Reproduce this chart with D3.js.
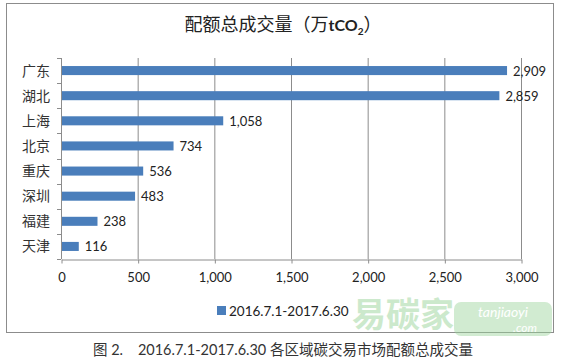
<!DOCTYPE html>
<html><head><meta charset="utf-8">
<script src="https://cdn.jsdelivr.net/npm/d3@7"></script>
<style>
body{margin:0;background:#fff;}
svg{display:block;}
text{font-family:Lato,"Noto Sans CJK SC",sans-serif;}
</style></head>
<body><svg id="c" width="562" height="360"></svg>
<script>
const categories = ["广东","湖北","上海","北京","重庆","深圳","福建","天津"];
const values = [2909,2859,1058,734,536,483,238,116];
const xTicks = [0,500,1000,1500,2000,2500,3000];
const seriesName = "2016.7.1-2017.6.30";

const svg = d3.select("#c");
const m = {l:61, r:521, t:58, b:259};
const x = d3.scaleLinear().domain([0,3000]).range([m.l,m.r]);
const y = d3.scaleBand().domain(categories).range([m.t,m.b]).paddingInner(0.64).paddingOuter(0.32);
const yb = d3.scaleBand().domain(categories).range([m.t,m.b]);

// frame
svg.append("rect").attr("x",6.5).attr("y",3.5).attr("width",547).attr("height",329)
  .attr("fill","#fff").attr("stroke","#8c8c8c").attr("stroke-width",1);

// title
const t = svg.append("text").attr("x",283).attr("y",31).attr("text-anchor","middle")
  .attr("font-size",18).attr("fill","#222").attr("font-family","'Noto Sans CJK SC',sans-serif");
t.append("tspan").text("配额总成交量（万");
t.append("tspan").text("tCO").attr("font-family","Lato,sans-serif").attr("font-weight","bold").attr("font-size",16);
t.append("tspan").text("2").attr("font-size",10).attr("dy",4).attr("font-weight","bold").attr("font-family","Lato,sans-serif");
t.append("tspan").text("）").attr("dy",-4);

// gridlines
svg.append("g").selectAll("line").data(xTicks.slice(1)).join("line")
  .attr("x1",d=>x(d)+0.5).attr("x2",d=>x(d)+0.5).attr("y1",m.t).attr("y2",m.b)
  .attr("stroke","#8c8c8c").attr("stroke-width",1);

// x axis
const xa = svg.append("g").attr("transform",`translate(0.5,${m.b+0.5})`)
  .call(d3.axisBottom(x).tickValues(xTicks).tickFormat(d3.format(",")).tickSize(4).tickSizeOuter(0).tickPadding(9));
xa.select(".domain").attr("stroke","#8c8c8c");
xa.selectAll(".tick line").attr("stroke","#8c8c8c");
xa.selectAll("text").attr("font-size",13).attr("fill","#222").attr("font-family","Lato,sans-serif");

// y axis line + ticks
svg.append("line").attr("x1",m.l+0.5).attr("x2",m.l+0.5).attr("y1",m.t).attr("y2",m.b).attr("stroke","#8c8c8c");
const yt = categories.map(c=>yb(c)).concat([m.b]);
svg.append("g").selectAll("line").data(yt).join("line")
  .attr("x1",m.l-4).attr("x2",m.l).attr("y1",d=>Math.round(d)+0.5).attr("y2",d=>Math.round(d)+0.5).attr("stroke","#8c8c8c");

// category labels
svg.append("g").selectAll("text").data(categories).join("text")
  .attr("x",50).attr("y",c=>yb(c)+yb.bandwidth()/2+5).attr("text-anchor","end")
  .attr("font-size",14).attr("fill","#333").attr("font-family","'Noto Sans CJK SC',sans-serif").text(c=>c);

// bars
svg.append("g").selectAll("rect").data(values).join("rect")
  .attr("x",m.l+1).attr("y",(d,i)=>y(categories[i])).attr("height",y.bandwidth())
  .attr("width",d=>x(d)-m.l-1).attr("fill","#4a7ebb");

// value labels
svg.append("g").selectAll("text").data(values).join("text")
  .attr("x",d=>x(d)+6).attr("y",(d,i)=>yb(categories[i])+yb.bandwidth()/2+5)
  .attr("font-size",13).attr("fill","#222").attr("font-family","Lato,sans-serif")
  .text(d=>d3.format(",")(d));

// legend
svg.append("rect").attr("x",217).attr("y",306).attr("width",9).attr("height",9).attr("fill","#4a7ebb");
svg.append("text").attr("x",229).attr("y",315.5).attr("font-size",13.5).attr("fill","#222")
  .attr("font-family","Lato,sans-serif").text(seriesName);

// watermark
const wm = svg.append("g").attr("opacity",0.45);
wm.append("text").attr("x",352).attr("y",327).attr("font-size",34).attr("font-weight","bold")
  .attr("fill","#8fcf8f").attr("font-family","'Noto Sans CJK SC',sans-serif").text("易碳家");
wm.append("rect").attr("x",454).attr("y",302).attr("width",98).attr("height",34).attr("rx",7).attr("fill","#9bd59b");
wm.append("text").attr("x",503).attr("y",317).attr("text-anchor","middle").attr("font-size",14).attr("font-style","italic")
  .attr("fill","#fff").text("tanjiaoyi");
wm.append("text").attr("x",525).attr("y",332).attr("text-anchor","middle").attr("font-size",12).attr("font-style","italic")
  .attr("fill","#fff").text(".com");

// caption
svg.append("text").attr("x",283).attr("y",355).attr("text-anchor","middle").attr("font-size",14.5)
  .attr("fill","#333").attr("font-family","'Noto Sans CJK SC',sans-serif")
  .attr("xml:space","preserve").text("图 2.    2016.7.1-2017.6.30 各区域碳交易市场配额总成交量");
</script></body></html>
